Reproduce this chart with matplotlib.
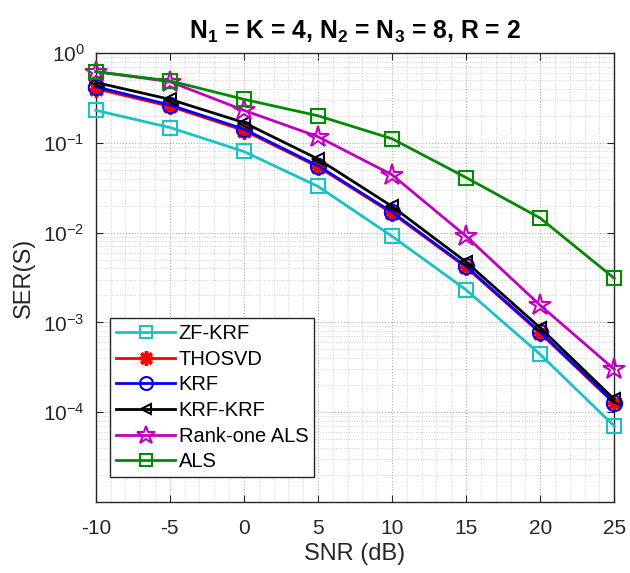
import matplotlib
matplotlib.use("Agg")
import matplotlib.pyplot as plt
import numpy as np

snr = [-10, -5, 0, 5, 10, 15, 20, 25]
zf_krf = [0.23, 0.148, 0.080, 0.0327, 0.0091, 0.0023, 4.4e-4, 7.0e-5]
thosvd = [0.40, 0.255, 0.137, 0.054, 0.0164, 0.0041, 7.6e-4, 1.25e-4]
krf = [0.42, 0.264, 0.142, 0.0555, 0.0169, 0.0042, 7.8e-4, 1.28e-4]
krf_krf = [0.47, 0.305, 0.168, 0.066, 0.0196, 0.0047, 8.7e-4, 1.39e-4]
rank_one_als = [0.62, 0.48, 0.23, 0.117, 0.044, 0.0091, 1.55e-3, 3.0e-4]
als = [0.62, 0.49, 0.305, 0.20, 0.111, 0.041, 0.0145, 0.0031]

labels = ["ZF-KRF", "THOSVD", "KRF", "KRF-KRF", "Rank-one ALS", "ALS"]

plt.rcParams['font.family'] = ['Liberation Sans', 'DejaVu Sans']
plt.rcParams['mathtext.fontset'] = 'custom'
plt.rcParams['mathtext.rm'] = 'Liberation Sans'
plt.rcParams['mathtext.it'] = 'Liberation Sans:italic'
plt.rcParams['mathtext.bf'] = 'Liberation Sans:bold'

fig = plt.figure(figsize=(6.3, 5.73), dpi=100)
ax = fig.add_axes([0.152, 0.124, 0.823, 0.7835])

asterisk = (8, 2, 0)
series = [
    (zf_krf, dict(color='#19c3c3', marker='s', markersize=10, mfc='none', mew=1.5)),
    (thosvd, dict(color='#ff0000', marker=asterisk, markersize=12, mfc='#ff0000', mew=2.5)),
    (krf, dict(color='#0000ff', marker='o', markersize=11, mfc='none', mew=1.5)),
    (krf_krf, dict(color='#000000', marker='<', markersize=9, mfc='none', mew=1.5)),
    (rank_one_als, dict(color='#bf00bf', marker='*', markersize=16, mfc='none', mew=1.5)),
    (als, dict(color='#008a00', marker='s', markersize=10, mfc='none', mew=1.5)),
]
for (vals, st), lab in zip(series, labels):
    ax.semilogy(snr, vals, linewidth=2, label=lab, clip_on=False, zorder=3, **st)

ax.set_xlim(-10, 25)
ax.set_ylim(1.0e-5, 1)
ax.set_xticks(snr)
ax.set_xticklabels([str(s) for s in snr])
ax.set_yticks([1e-4, 1e-3, 1e-2, 1e-1, 1e0])
ax.set_xticks(np.arange(-10, 26, 1), minor=True)
ax.yaxis.set_minor_locator(matplotlib.ticker.LogLocator(base=10, subs=np.arange(2, 10), numticks=20))
ax.yaxis.set_minor_formatter(matplotlib.ticker.NullFormatter())

ax.grid(True, which='major', linestyle=':', color='#b0b0b0', linewidth=0.8)
ax.grid(True, which='minor', linestyle=':', color='#d0d0d0', linewidth=0.7)
ax.tick_params(which='both', direction='in', top=True, right=True, labelsize=15, colors='#262626')
ax.tick_params(axis='x', which='major', pad=12)
ax.tick_params(axis='y', which='major', pad=8)
ax.tick_params(which='minor', length=0)
ax.tick_params(which='major', length=5)
for sp in ax.spines.values():
    sp.set_color('#262626')
    sp.set_linewidth(1.0)

ax.set_xlabel('SNR (dB)', fontsize=17, color='#262626', labelpad=4)
ax.set_ylabel('SER(S)', fontsize=17, color='#262626', labelpad=6)
ax.set_title(r'N$_\mathbf{1}$ = K = 4, N$_\mathbf{2}$ = N$_\mathbf{3}$ = 8, R = 2',
             fontsize=17.8, fontweight='bold', pad=10)

leg = ax.legend(loc='lower left', bbox_to_anchor=(0.028, 0.055), fontsize=14.5, frameon=True,
                fancybox=False, edgecolor='#262626', framealpha=1, handlelength=2.9,
                borderpad=0.3, labelspacing=0.33, handletextpad=0.2, borderaxespad=0.0)
leg.get_frame().set_linewidth(1.0)
for h in leg.legend_handles:
    ms = h.get_markersize()
    h.set_markersize(ms * 0.85)

fig.savefig('out.png', dpi=100)
